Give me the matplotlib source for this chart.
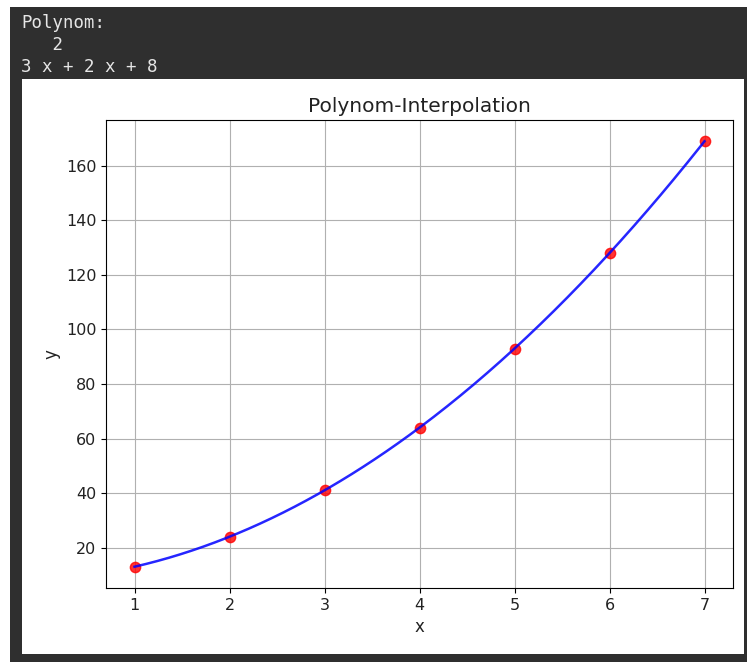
import numpy as np
import matplotlib
matplotlib.use("Agg")
import matplotlib.pyplot as plt
from matplotlib.patches import Rectangle

# Data
x_points = [1, 2, 3, 4, 5, 6, 7]
y_points = [13, 24, 41, 64, 93, 128, 169]
coefficients = [3, 2, 8]   # printed polynomial 3x^2 + 2x + 8
header_lines = ["Polynom:", "   2", "3 x + 2 x + 8"]

W, H = 747, 662
fig = plt.figure(figsize=(W / 100, H / 100), dpi=100)
fig.patch.set_facecolor("white")

# dark notebook output panel
fig.patches.append(Rectangle((10 / W, 0), (W - 10) / W, (H - 7) / H,
                             transform=fig.transFigure, facecolor="#2f2f2f",
                             edgecolor="none", zorder=-10))
# white figure area
fig.patches.append(Rectangle((22 / W, (H - 654) / H), (744 - 22) / W, (654 - 79) / H,
                             transform=fig.transFigure, facecolor="white",
                             edgecolor="none", zorder=-9))

for i, line in enumerate(header_lines):
    fig.text(21 / W, 1 - (23 + i * 22) / H, line, family="DejaVu Sans Mono",
             fontsize=12.5, color="#e6e6e6", va="center", ha="left")

ax = fig.add_axes([106 / W, 1 - 588 / H, (733 - 106) / W, (588 - 120) / H])
xs = np.linspace(min(x_points), max(x_points), 300)
ax.scatter(x_points, y_points, color="red", s=55, alpha=0.8, zorder=2)
ax.plot(xs, np.polyval(coefficients, xs), color="blue", lw=1.8, alpha=0.85, zorder=3)
ax.grid(True)
ax.set_title("Polynom-Interpolation", fontsize=14.5, color="#222222")
ax.set_xlabel("x", fontsize=12, color="#222222")
ax.set_ylabel("y", fontsize=12, color="#222222")
ax.tick_params(labelsize=11.5, labelcolor="#222222")

fig.savefig("out.png", dpi=100)
